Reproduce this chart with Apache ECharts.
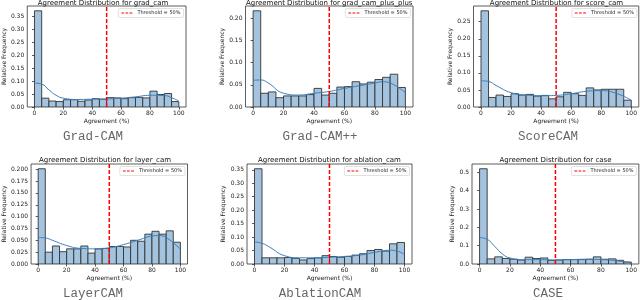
<!DOCTYPE html>
<html>
<head>
<meta charset="utf-8">
<script src="https://cdn.jsdelivr.net/npm/echarts@6/dist/echarts.min.js"></script>
<style>html,body{margin:0;padding:0;background:#fff;}#c{width:640px;height:300px;}</style>
</head>
<body>
<div id="c"></div>
<script>
// ---- data ----
const methods = ['grad_cam', 'grad_cam_plus_plus', 'score_cam', 'layer_cam', 'ablation_cam', 'case'];
const methodLabels = ['Grad-CAM', 'Grad-CAM++', 'ScoreCAM', 'LayerCAM', 'AblationCAM', 'CASE'];
const binStarts = [0, 5, 10, 15, 20, 25, 30, 35, 40, 45, 50, 55, 60, 65, 70, 75, 80, 85, 90, 95];
const binWidth = 5;
const threshold = 50;

const histGradCam = [0.370, 0.034, 0.023, 0.021, 0.028, 0.028, 0.022, 0.027, 0.032, 0.030, 0.036, 0.035, 0.032, 0.036, 0.037, 0.035, 0.061, 0.048, 0.052, 0.021];
const histGradCamPP = [0.217, 0.031, 0.034, 0.021, 0.025, 0.025, 0.025, 0.028, 0.042, 0.027, 0.031, 0.045, 0.046, 0.057, 0.052, 0.056, 0.062, 0.067, 0.074, 0.044];
const histScoreCam = [0.282, 0.028, 0.035, 0.031, 0.039, 0.035, 0.037, 0.032, 0.034, 0.024, 0.030, 0.043, 0.039, 0.034, 0.056, 0.050, 0.052, 0.052, 0.052, 0.020];
const histLayerCam = [0.201, 0.025, 0.038, 0.026, 0.032, 0.032, 0.038, 0.023, 0.032, 0.033, 0.037, 0.037, 0.036, 0.050, 0.048, 0.063, 0.069, 0.063, 0.070, 0.046];
const histAblationCam = [0.354, 0.023, 0.023, 0.023, 0.024, 0.021, 0.015, 0.020, 0.023, 0.031, 0.028, 0.025, 0.028, 0.033, 0.038, 0.050, 0.054, 0.048, 0.075, 0.080];
const histCase = [0.520, 0.028, 0.039, 0.030, 0.026, 0.022, 0.037, 0.030, 0.033, 0.020, 0.022, 0.024, 0.024, 0.024, 0.026, 0.039, 0.026, 0.028, 0.020, 0.011];

const kdeGradCam = [[0,0.092],[5,0.088],[10,0.066],[15,0.045],[20,0.034],[30,0.029],[40,0.030],[50,0.031],[60,0.034],[70,0.039],[80,0.045],[90,0.044],[95,0.036],[100,0.023]];
const kdeGradCamPP = [[0,0.060],[5,0.061],[10,0.054],[20,0.031],[30,0.027],[40,0.031],[50,0.035],[60,0.042],[70,0.048],[80,0.054],[85,0.057],[90,0.054],[100,0.032]];
const kdeScoreCam = [[0,0.077],[5,0.075],[10,0.063],[20,0.042],[30,0.035],[40,0.033],[50,0.034],[60,0.039],[70,0.046],[80,0.048],[90,0.040],[100,0.020]];
const kdeLayerCam = [[0,0.056],[5,0.055],[10,0.050],[20,0.039],[30,0.033],[40,0.032],[50,0.034],[60,0.041],[70,0.050],[80,0.059],[85,0.060],[90,0.056],[100,0.031]];
const kdeAblationCam = [[0,0.082],[5,0.077],[10,0.063],[20,0.031],[30,0.023],[40,0.023],[50,0.025],[60,0.028],[70,0.033],[80,0.043],[90,0.051],[95,0.048],[100,0.035]];
const kdeCase = [[0,0.144],[5,0.135],[10,0.096],[15,0.055],[20,0.033],[30,0.024],[40,0.024],[50,0.022],[60,0.024],[70,0.026],[80,0.024],[90,0.018],[100,0.006]];

const xTicks = [0, 20, 40, 60, 80, 100];
const yTicks = [
  [0, 0.05, 0.10, 0.15, 0.20, 0.25, 0.30, 0.35],
  [0, 0.05, 0.10, 0.15, 0.20],
  [0, 0.05, 0.10, 0.15, 0.20, 0.25],
  [0, 0.025, 0.05, 0.075, 0.10, 0.125, 0.15, 0.175, 0.20],
  [0, 0.05, 0.10, 0.15, 0.20, 0.25, 0.30, 0.35],
  [0, 0.1, 0.2, 0.3, 0.4, 0.5]
];
const yDecimals = [2, 2, 2, 3, 2, 1];

const hists = [histGradCam, histGradCamPP, histScoreCam, histLayerCam, histAblationCam, histCase];
const kdes = [kdeGradCam, kdeGradCamPP, kdeScoreCam, kdeLayerCam, kdeAblationCam, kdeCase];

// ---- layout ----
const W = 640;
const grids = [
  {left: 20, top: 6, width: 166, height: 101},
  {left: 245.5, top: 6, width: 167.5, height: 101},
  {left: 473.5, top: 6, width: 166, height: 101},
  {left: 22.5, top: 164, width: 165, height: 100},
  {left: 247, top: 164, width: 165, height: 100},
  {left: 472, top: 164, width: 167, height: 100}
];
const yNameGaps = [15, 16, 17, 19, 18, 15];
const labelCenters = [93, 320, 548];
const labelYs = [137, 294];

const FONT = 'DejaVu Sans';
const dashIcon = 'path://M0,0L3,0L3,1L0,1Z M4.5,0L7.5,0L7.5,1L4.5,1Z M9,0L12,0L12,1L9,1Z';
const option = {
  animation: false,
  backgroundColor: '#fff',
  grid: [], xAxis: [], yAxis: [], series: [], legend: [], graphic: []
};

methods.forEach((m, i) => {
  const g = grids[i];
  const maxV = Math.max.apply(null, hists[i]);
  const yMax = maxV * 1.05;
  option.grid.push({left: g.left, top: g.top, width: g.width, height: g.height, show: true, borderColor: '#333', borderWidth: 0.8, backgroundColor: 'transparent'});
  option.xAxis.push({
    type: 'value', gridIndex: i, min: -5, max: 105,
    axisLine: {show: false}, splitLine: {show: false},
    axisTick: {show: true, customValues: xTicks, length: 2.5, lineStyle: {color: '#333', width: 0.8}},
    axisLabel: {customValues: xTicks, fontSize: 6, fontFamily: FONT, color: '#222', margin: 3},
    name: 'Agreement (%)', nameLocation: 'middle', nameGap: 11,
    nameTextStyle: {fontSize: 6, fontFamily: FONT, color: '#222'}
  });
  option.yAxis.push({
    type: 'value', gridIndex: i, min: 0, max: yMax,
    axisLine: {show: false}, splitLine: {show: false},
    axisTick: {show: true, customValues: yTicks[i], length: 2.5, lineStyle: {color: '#333', width: 0.8}},
    axisLabel: {customValues: yTicks[i], fontSize: 6, fontFamily: FONT, color: '#222', margin: 3,
      formatter: v => Number(v).toFixed(yDecimals[i])},
    name: 'Relative Frequency', nameLocation: 'middle', nameGap: yNameGaps[i],
    nameTextStyle: {fontSize: 6, fontFamily: FONT, color: '#222'}
  });
  option.series.push({
    type: 'custom', xAxisIndex: i, yAxisIndex: i, clip: true, z: 2,
    data: binStarts.map((b, k) => [b, b + binWidth, hists[i][k]]),
    renderItem: function (params, api) {
      const p0 = api.coord([api.value(0), api.value(2)]);
      const p1 = api.coord([api.value(1), 0]);
      return {type: 'rect', shape: {x: p0[0], y: p0[1], width: p1[0] - p0[0], height: p1[1] - p0[1]},
        style: {fill: '#a3c3de', stroke: '#333', lineWidth: 0.9}};
    }
  });
  option.series.push({
    type: 'line', xAxisIndex: i, yAxisIndex: i, data: kdes[i], smooth: 0.5, symbol: 'none',
    lineStyle: {color: '#3a80c0', width: 1}, z: 5
  });
  option.series.push({
    name: 'Threshold = 50%', type: 'line', xAxisIndex: i, yAxisIndex: i,
    data: [[threshold, 0], [threshold, yMax]], symbol: 'none',
    itemStyle: {color: '#ff0000'},
    lineStyle: {color: '#ff0000', width: 1.5, type: [4, 2]}, z: 10
  });
  option.legend.push({
    data: [{name: 'Threshold = 50%', icon: dashIcon}],
    right: W - (g.left + g.width) + 2.5, top: g.top + 2.5,
    orient: 'horizontal', itemWidth: 11, itemHeight: 1.3, itemGap: 2,
    padding: [2, 3], borderColor: '#ccc', borderWidth: 0.6, borderRadius: 1.5,
    backgroundColor: '#fff', selectedMode: false,
    itemStyle: {color: '#ff0000'},
    textStyle: {fontSize: 5, fontFamily: FONT, color: '#222', padding: [0, 0, 0, 0]}
  });
  option.graphic.push({
    type: 'text',
    x: g.left + g.width / 2, y: i < 3 ? 3.5 : 160,
    style: {text: 'Agreement Distribution for ' + m, font: '7px "' + FONT + '"', fill: '#111', align: 'center', verticalAlign: 'middle'}
  });
  option.graphic.push({
    type: 'text',
    x: labelCenters[i % 3], y: labelYs[i < 3 ? 0 : 1],
    style: {text: methodLabels[i], font: '12.5px "Liberation Mono"', fill: '#666', align: 'center', verticalAlign: 'middle'}
  });
});

const chart = echarts.init(document.getElementById('c'), null, {renderer: 'canvas'});
chart.setOption(option);
</script>
</body>
</html>
